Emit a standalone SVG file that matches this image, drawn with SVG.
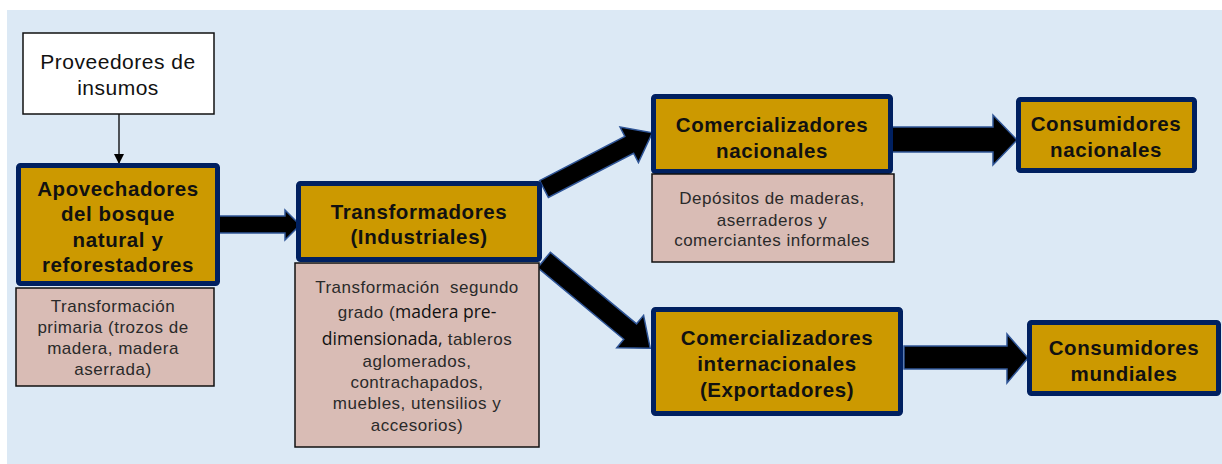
<svg xmlns="http://www.w3.org/2000/svg" width="1222" height="464" viewBox="0 0 1222 464">
<defs>
<style>
.gold{fill:#cc9900;stroke:#002060;stroke-width:5}
.pink{fill:#d9bcb5;stroke:#111;stroke-width:1.5}
.bt{font-family:"Liberation Sans",Arial,sans-serif;font-weight:bold;font-size:20.5px;fill:#111;text-anchor:middle;letter-spacing:0.6px}
.lt{font-family:"Liberation Sans",Arial,sans-serif;font-size:17px;fill:#2a2a2a;text-anchor:middle;letter-spacing:0.5px}
.arr{fill:#000;stroke:#2f5597;stroke-width:1.5}
.cal{font-family:"Open Sans","Liberation Sans",sans-serif;font-size:17.5px;fill:#111;letter-spacing:0}
</style>
<marker id="ah" markerWidth="10" markerHeight="10" refX="9" refY="5" orient="auto" markerUnits="userSpaceOnUse">
<path d="M0,0 L10,5 L0,10 z" fill="#000"/>
</marker>
</defs>
<rect x="7" y="10" width="1215" height="454" fill="#dce9f5"/>

<g id="connectors">
<line x1="119" y1="114" x2="119" y2="163" stroke="#000" stroke-width="1.3" marker-end="url(#ah)"/>
<path class="arr" d="M218,216 L285,216 L285,210 L300,225 L285,240 L285,233 L218,233 Z"/>
<path class="arr" transform="translate(544,189) rotate(-27.4)" d="M0,-9.5 L96,-9.5 L96,-20 L122,0 L96,20 L96,9.5 L0,9.5 Z"/>
<path class="arr" transform="translate(544,260) rotate(39.7)" d="M0,-10 L112,-10 L112,-21 L138,0 L112,21 L112,10 L0,10 Z"/>
<path class="arr" d="M892,127 L993,127 L993,115 L1017,140 L993,165 L993,152 L892,152 Z"/>
<path class="arr" d="M904,346 L1007,346 L1007,334 L1028,358 L1007,383 L1007,369 L904,369 Z"/>
</g>

<g id="proveedores">
<rect x="23" y="33" width="191" height="81" fill="#fff" stroke="#111" stroke-width="1.5"/>
<text class="lt" x="118" y="69" style="font-size:21px;fill:#111">Proveedores de</text>
<text class="lt" x="118" y="95" style="font-size:21px;fill:#111">insumos</text>
</g>

<g id="apovechadores">
<rect class="gold" x="18.5" y="165.5" width="199" height="118" rx="2"/>
<text class="bt" x="118" y="196">Apovechadores</text>
<text class="bt" x="118" y="221">del bosque</text>
<text class="bt" x="118" y="247">natural y</text>
<text class="bt" x="118" y="272">reforestadores</text>
</g>
<g id="apovechadores-nota">
<rect class="pink" x="16" y="288" width="198" height="98"/>
<text class="lt" x="113" y="312">Transformación</text>
<text class="lt" x="113" y="333">primaria (trozos de</text>
<text class="lt" x="113" y="354">madera, madera</text>
<text class="lt" x="113" y="375">aserrada)</text>
</g>

<g id="transformadores">
<rect class="gold" x="298.5" y="183.5" width="241" height="76" rx="2"/>
<text class="bt" x="419" y="219">Transformadores</text>
<text class="bt" x="419" y="244">(Industriales)</text>
</g>
<g id="transformadores-nota">
<rect class="pink" x="295" y="263" width="244" height="184"/>
<text class="lt" x="417" y="293" xml:space="preserve">Transformación  segundo</text>
<text class="lt" x="417" y="318">grado (<tspan class="cal">madera pre-</tspan></text>
<text class="lt" x="417" y="345"><tspan class="cal">dimensionada,</tspan> tableros</text>
<text class="lt" x="417" y="367">aglomerados,</text>
<text class="lt" x="417" y="388">contrachapados,</text>
<text class="lt" x="417" y="409">muebles, utensilios y</text>
<text class="lt" x="417" y="431">accesorios)</text>
</g>

<g id="com-nacionales">
<rect class="gold" x="653.5" y="96.5" width="237" height="75" rx="2"/>
<text class="bt" x="772" y="132">Comercializadores</text>
<text class="bt" x="772" y="158">nacionales</text>
</g>
<g id="com-nacionales-nota">
<rect class="pink" x="652" y="174" width="242" height="88"/>
<text class="lt" x="772" y="204">Depósitos de maderas,</text>
<text class="lt" x="772" y="226">aserraderos y</text>
<text class="lt" x="772" y="246">comerciantes informales</text>
</g>

<g id="com-internacionales">
<rect class="gold" x="653.5" y="309.5" width="247" height="104" rx="2"/>
<text class="bt" x="777" y="345">Comercializadores</text>
<text class="bt" x="777" y="371">internacionales</text>
<text class="bt" x="777" y="397">(Exportadores)</text>
</g>

<g id="cons-nacionales">
<rect class="gold" x="1018.5" y="99.5" width="176" height="71" rx="2"/>
<text class="bt" x="1106" y="131">Consumidores</text>
<text class="bt" x="1106" y="157">nacionales</text>
</g>

<g id="cons-mundiales">
<rect class="gold" x="1029.5" y="322.5" width="189" height="71" rx="2"/>
<text class="bt" x="1124" y="355">Consumidores</text>
<text class="bt" x="1124" y="381">mundiales</text>
</g>
</svg>
